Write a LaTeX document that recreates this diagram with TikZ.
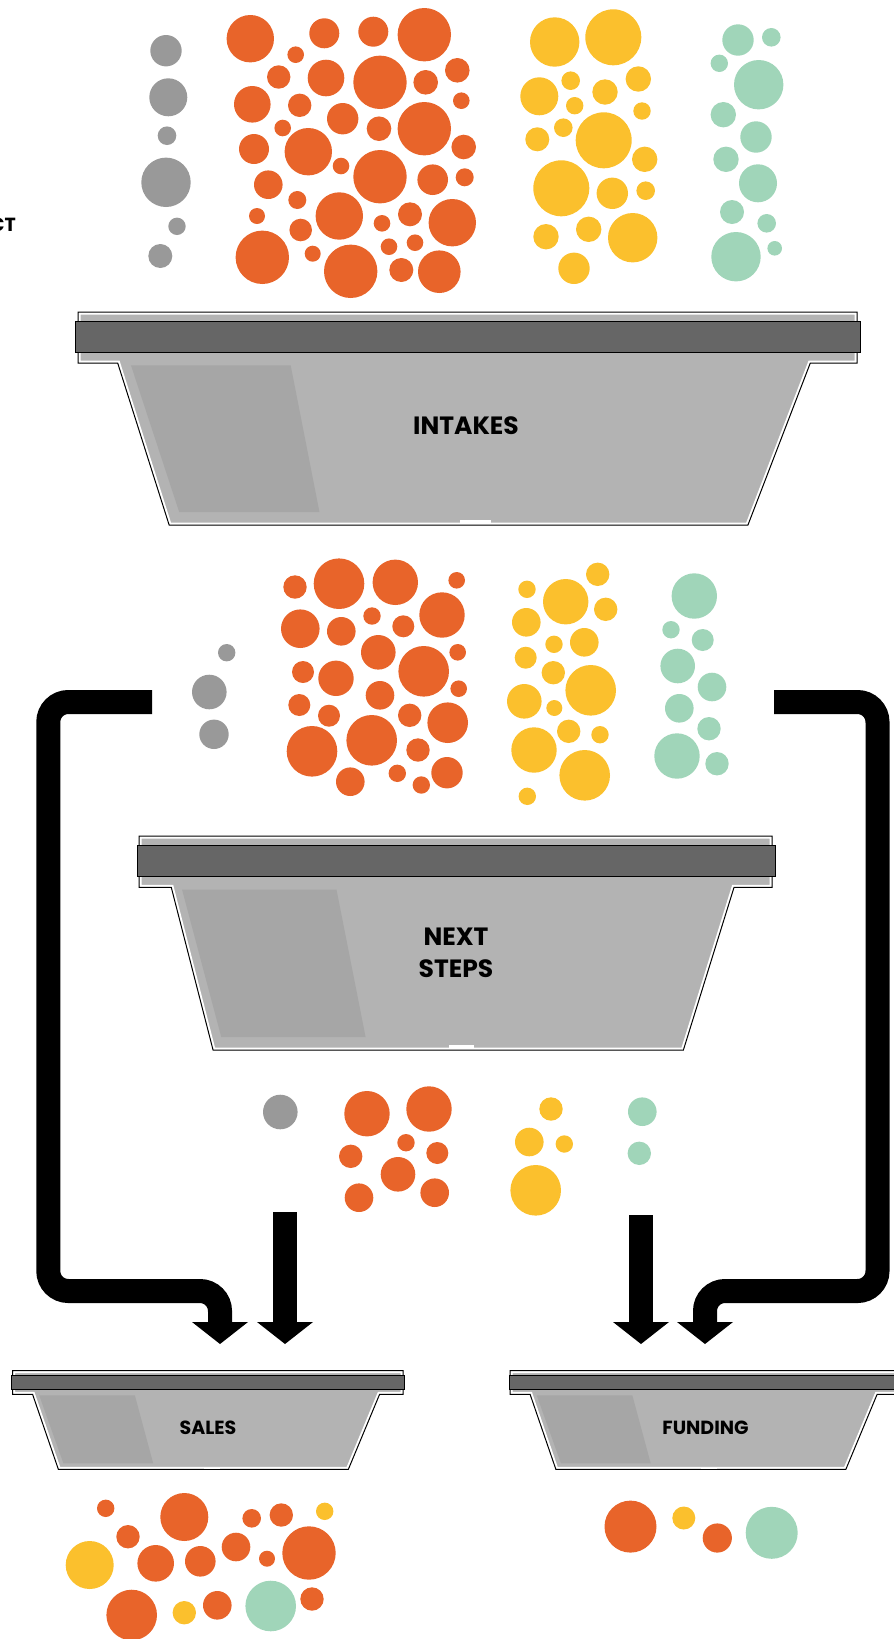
\documentclass[tikz,border=0pt]{standalone}
\usepackage{fontspec}
\setsansfont{Poppins}
\usetikzlibrary{arrows.meta}
\usepackage{xcolor}
\definecolor{ember}{HTML}{E8642A}
\definecolor{sun}{HTML}{FBC02D}
\definecolor{mint}{HTML}{A0D5B9}
\definecolor{ash}{HTML}{999999}
\definecolor{trayfill}{HTML}{B3B3B3}
\definecolor{trayshade}{HTML}{A6A6A6}
\definecolor{lid}{HTML}{666666}
\tikzset{
  binlabel/.style={font=\sffamily\bfseries\fontsize{25}{32}\selectfont,align=center,inner sep=0pt},
  smalllabel/.style={binlabel,font=\sffamily\bfseries\fontsize{19}{23}\selectfont},
  pipe/.style={line width=24pt,rounded corners=20pt,-{Triangle[length=22pt,width=56pt,line width=0pt]}},
  rim/.style={draw=black,line width=1pt},
  lidbar/.style={rim,fill=lid}
}
% bin: x, y, width, height, shade top right, shade bottom right
\def\binoutline{(0,0) -- (1,0) -- (1,.24) -- (.94,.24) -- (.86,1) -- (.117,1) -- (.051,.24) -- (0,.24) -- cycle}
\newcommand\drawbin[6]{%
  \begin{scope}[shift={(#1,#2)},xscale=#3,yscale=#4]
    \fill[trayfill] \binoutline;
    \fill[trayshade] (.068,.25) -- (#5,.25) -- (#6,.94) -- (.13,.94) -- cycle;
    \begin{scope}
      \clip \binoutline;
      \draw[white,line width=5pt] \binoutline;
    \end{scope}
    \draw[rim] \binoutline;
    \fill[white] (.49,.975) rectangle (.53,.995);
    \draw[lidbar] (-.003,.045) rectangle (1.005,.188);
  \end{scope}}

\begin{document}
\begin{tikzpicture}[x=1pt,y=-1pt]
\useasboundingbox (0,0) rectangle (894,1639);
\clip (0,0) rectangle (894,1639);

\node[smalllabel,anchor=east] (project) at (16,225) {CT};

% bins
\drawbin{78}{312}{779}{213}{.273}{.31}
\drawbin{139}{836}{633}{214}{.312}{.358}
\drawbin{12.7}{1370.7}{390.3}{98.6}{.313}{.36}
\drawbin{510.2}{1370.7}{390.3}{98.6}{.313}{.36}
\node[binlabel] (intakes) at (466,426) {INTAKES};
\node[binlabel] (nextsteps) at (456,953) {NEXT\\STEPS};
\node[smalllabel] (sales) at (208,1428) {SALES};
\node[smalllabel] (funding) at (705.5,1428) {FUNDING};

% gray
\foreach \x/\y/\r in {166/50.7/15.7,168.3/97.3/19,167/135.7/9.3,166/182.3/24.7,177/226.3/8.7,160.3/256/12,
  226.7/652.7/8.7,209.3/692/17.3,214/734.3/14.7,280.3/1112/17.3}
  \fill[ash] (\x,\y) circle (\r pt);

% orange
\foreach \x/\y/\r in {250.3/38.7/23.7,324.3/33.3/15,373.3/31.7/15,424.3/34.7/26.7,295.7/54.7/8.3,278.7/77/11.7,
  326/78/18.3,380/82.3/26.7,425.7/82.3/12.3,457.3/70.3/12.3,252.3/104.3/18.3,299.7/105.3/11.7,461.3/100.7/8.3,
  342.7/118.7/15.7,379/128.7/12.3,424.3/128.7/26.7,282.7/128/8.3,254/149/15,308.3/151.7/23.7,341/166/8.3,
  380/176.7/26.7,463.7/147/12.3,268.3/184.7/14.3,432.7/179.7/15.3,464.7/177.3/9,297.3/200/9,339.3/216/23.7,
  257/216/8,382/223.3/8.3,410/214.3/12,452.3/222.7/23.7,300.7/230/11.3,389/246.7/8.3,415/242.7/8.3,
  262.3/257.3/26.7,312.7/253.7/8,350.7/271.3/26.7,401.3/270/12,439.3/271.7/21.3}
  \fill[ember] (\x,\y) circle (\r pt);
\foreach \x/\y/\r in {295/587/11.7,339/583.7/25.3,395.3/582.3/22.7,456.7/580.3/8.3,300.3/628.7/19.3,341.3/631.3/14.3,
  372/616/8.7,403.3/626.3/11,442/615/22.7,378.3/652.3/17.3,423.7/671.3/25.3,457.7/652.3/8.3,303/672/11,
  336/678.3/17.7,380/695.3/14.3,458.7/688.7/8.3,299.3/705/11,329/715.7/11,409.7/715.3/11.7,447.7/722.7/20.3,
  312/751.3/25.3,371.7/740.3/25.3,418/750/11.7,350.3/781.7/14.3,397.3/773.3/8.7,421.3/785/8.7,447/772.7/15.7}
  \fill[ember] (\x,\y) circle (\r pt);
\foreach \x/\y/\r in {367/1113.7/22.7,429/1109/22.7,350.7/1156.3/11.7,406/1142.7/8.7,437.3/1153/11,398/1174.3/17.3,
  359/1197.7/14.3,434.7/1192.7/14.3,
  105.7/1508.3/8.7,184.3/1517/24,251.7/1518.3/9.3,281.3/1515/11.7,128/1536.7/11.7,155.7/1563.3/18.3,
  200.3/1561.3/15.3,236/1547/14.3,267/1558.7/8,309/1553/26.7,131.7/1615/25.3,217.3/1605.3/14.3,312/1599/11.7,
  630.5/1526.6/26,717.3/1538/14.6}
  \fill[ember] (\x,\y) circle (\r pt);

% yellow
\foreach \x/\y/\r in {554.7/42/24.7,613.3/37.3/28,539.3/96.3/19,570.7/80.7/9.3,605/92/12.7,638.3/79/12.7,
  574.7/105.7/8.7,642/111/8.7,537.3/139.3/12,563.3/127.7/9.3,603.7/140.3/28,644.7/159.3/12.7,561.3/188.3/28,
  612.3/193.3/15.7,645.7/190.7/9.3,546/236.7/12.7,588.7/229.3/12.7,632.7/237.7/24.7,574/268.3/15.7,
  527/589.3/8.7,565.7/601.7/22.7,597.7/574.3/11.7,605.7/609.3/11.7,526.3/622.3/14.3,554/644.3/8.7,
  584.3/642.3/14.3,525.7/657.7/11,553.3/672.7/11.7,590.7/690.3/25.3,524.3/701.3/17.3,554.3/708/8,
  568.7/731.3/11.7,600/734.7/8.7,534/750/22.7,584.7/775.3/25.3,527.3/796.3/8.7,
  551/1109/11.7,529.3/1142/14.3,564.3/1144/8.7,535.7/1190.3/25.3,
  89.7/1565/24,184.3/1612.7/11.7,324.7/1511.3/8.7,683.8/1518/11.5}
  \fill[sun] (\x,\y) circle (\r pt);

% green
\foreach \x/\y/\r in {738/40/15.7,771.3/37.3/9.3,719.3/63.3/8.7,758.7/84.7/24.7,723.3/114.7/12.7,756/137/15.7,
  726/159.3/12.7,758/183.3/19,732/212/12,766.7/223.3/9.3,736/256.7/24.7,774.7/248.3/7.3,
  694.3/596/22.7,671/629.7/8.7,702.7/640/11,677.7/666/17.3,712/687/14.3,679.3/708.3/14.3,709/728.7/11.7,
  677/756/22.7,717/763.7/11.7,
  642.3/1111.7/14.3,639.3/1153.3/11.7,
  270.7/1606/25.3,771.7/1532.8/26}
  \fill[mint] (\x,\y) circle (\r pt);

% routes
\coordinate (graystream) at (152,702);
\coordinate (leftbend) at (48.3,1291);
\coordinate (salesleft) at (220,1344);
\coordinate (salesdrop) at (285,1212);
\coordinate (salesright) at (285,1344);
\coordinate (fundingdrop) at (641,1215);
\coordinate (fundingleft) at (641,1344);
\coordinate (greenstream) at (774,702);
\coordinate (rightbend) at (877.5,1291);
\coordinate (fundingright) at (705,1344);

\draw[pipe] (graystream) -| (leftbend) -| (salesleft);
\draw[pipe] (salesdrop) -- (salesright);
\draw[pipe] (fundingdrop) -- (fundingleft);
\draw[pipe] (greenstream) -| (rightbend) -| (fundingright);
\end{tikzpicture}
\end{document}
